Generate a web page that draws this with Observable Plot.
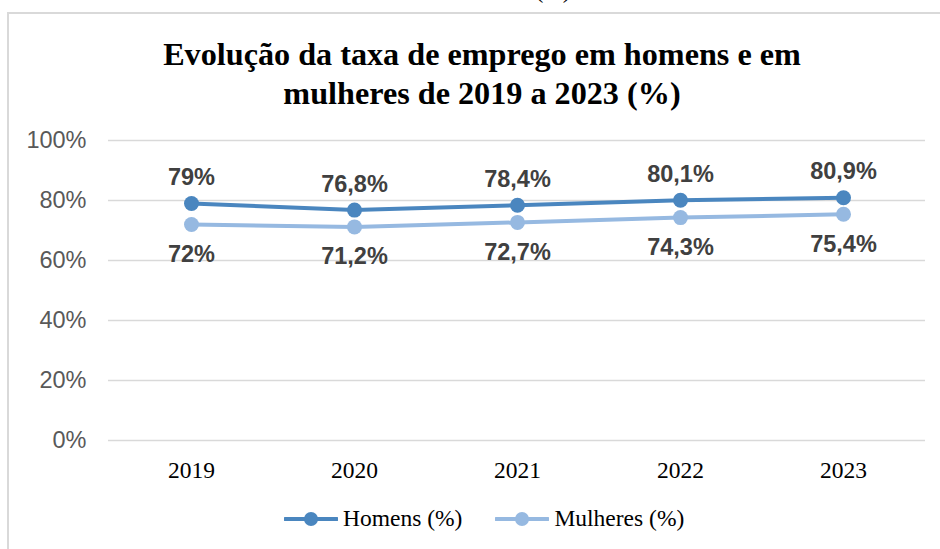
<!DOCTYPE html>
<html>
<head>
<meta charset="utf-8">
<script src="https://cdn.jsdelivr.net/npm/d3@7"></script>
<script src="https://cdn.jsdelivr.net/npm/@observablehq/plot@0.6"></script>
<style>
  html, body { margin: 0; padding: 0; background: #fff; }
  #wrap { position: relative; width: 940px; height: 549px; overflow: hidden; background: #fff; }
  #frame { position: absolute; left: 7px; top: 12px; width: 1000px; height: 600px; border-left: 2px solid #d9d9d9; border-top: 2px solid #d9d9d9; box-sizing: border-box; }
  #above { position: absolute; left: 453px; width: 200px; text-align: center; top: -22px; font: 23.5px "Liberation Serif", "Times New Roman", serif; color: #000; line-height: 24px; }
  #title { position: absolute; left: 0; width: 964px; top: 35px; text-align: center; font: bold 32.2px "Liberation Serif", "Times New Roman", serif; color: #000; line-height: 39px; }
  #chart { position: absolute; left: 0; top: 0; }
  #legend { position: absolute; top: 505px; left: 284px; font: 23.5px "Liberation Serif", "Times New Roman", serif; color: #000; display: flex; align-items: center; white-space: nowrap; }
  #legend .item { display: flex; align-items: center; }
  #legend svg { display: block; }
</style>
</head>
<body>
<div id="wrap">
  <div id="frame"></div>
  <div id="above">(%)</div>
  <div id="chart"></div>
  <div id="title">Evolução da taxa de emprego em homens e em<br>mulheres de 2019 a 2023 (%)</div>
  <div id="legend"></div>
</div>
<script>
const years = ["2019", "2020", "2021", "2022", "2023"];
const homens = [79, 76.8, 78.4, 80.1, 80.9];
const mulheres = [72, 71.2, 72.7, 74.3, 75.4];
const homensLabels = ["79%", "76,8%", "78,4%", "80,1%", "80,9%"];
const mulheresLabels = ["72%", "71,2%", "72,7%", "74,3%", "75,4%"];
const yTicks = [0, 20, 40, 60, 80, 100];
const seriesNames = ["Homens (%)", "Mulheres (%)"];
const colors = ["#4a86bf", "#96b9e1"];

const dataH = years.map((y, i) => ({year: y, value: homens[i], label: homensLabels[i]}));
const dataM = years.map((y, i) => ({year: y, value: mulheres[i], label: mulheresLabels[i]}));

const labelFont = {fontFamily: "'Liberation Sans', Arial, sans-serif", fontSize: 23.5, fontWeight: "bold", fill: "#404040"};

const chart = Plot.plot({
  width: 940,
  height: 549,
  marginLeft: 108,
  marginRight: 15,
  marginTop: 140,
  marginBottom: 109,
  style: {background: "transparent", overflow: "visible"},
  x: {type: "point", domain: years, padding: 0.5},
  y: {domain: [0, 100]},
  marks: [
    Plot.gridY(yTicks, {stroke: "#d9d9d9", strokeOpacity: 1, strokeWidth: 1.6}),
    Plot.axisY(yTicks, {
      tickSize: 0, tickPadding: 22,
      tickFormat: d => d + "%",
      fontFamily: "'Liberation Sans', Arial, sans-serif",
      fontSize: 23.5, fill: "#595959", label: null
    }),
    Plot.axisX({
      tickSize: 0, tickPadding: 21,
      fontFamily: "'Liberation Serif', 'Times New Roman', serif",
      fontSize: 23.5, fill: "#000", label: null
    }),
    Plot.line(dataM, {x: "year", y: "value", stroke: colors[1], strokeWidth: 4}),
    Plot.dot(dataM, {x: "year", y: "value", r: 7.5, fill: colors[1], stroke: "none"}),
    Plot.line(dataH, {x: "year", y: "value", stroke: colors[0], strokeWidth: 4}),
    Plot.dot(dataH, {x: "year", y: "value", r: 7.5, fill: colors[0], stroke: "none"}),
    Plot.text(dataH, {x: "year", y: "value", text: "label", dy: -26, ...labelFont}),
    Plot.text(dataM, {x: "year", y: "value", text: "label", dy: 30, ...labelFont})
  ]
});
document.getElementById("chart").appendChild(chart);

// Legend
const legend = document.getElementById("legend");
seriesNames.forEach((name, i) => {
  const item = document.createElement("div");
  item.className = "item";
  item.style.marginRight = i === 0 ? "33px" : "0";
  const ns = "http://www.w3.org/2000/svg";
  const svg = document.createElementNS(ns, "svg");
  svg.setAttribute("width", 54); svg.setAttribute("height", 20);
  const line = document.createElementNS(ns, "line");
  line.setAttribute("x1", 1); line.setAttribute("x2", 53);
  line.setAttribute("y1", 10); line.setAttribute("y2", 10);
  line.setAttribute("stroke", colors[i]); line.setAttribute("stroke-width", 4);
  line.setAttribute("stroke-linecap", "round");
  const c = document.createElementNS(ns, "circle");
  c.setAttribute("cx", 27); c.setAttribute("cy", 10); c.setAttribute("r", 7);
  c.setAttribute("fill", colors[i]);
  svg.appendChild(line); svg.appendChild(c);
  const span = document.createElement("span");
  span.textContent = name;
  span.style.marginLeft = "5px";
  item.appendChild(svg); item.appendChild(span);
  legend.appendChild(item);
});
</script>
</body>
</html>
